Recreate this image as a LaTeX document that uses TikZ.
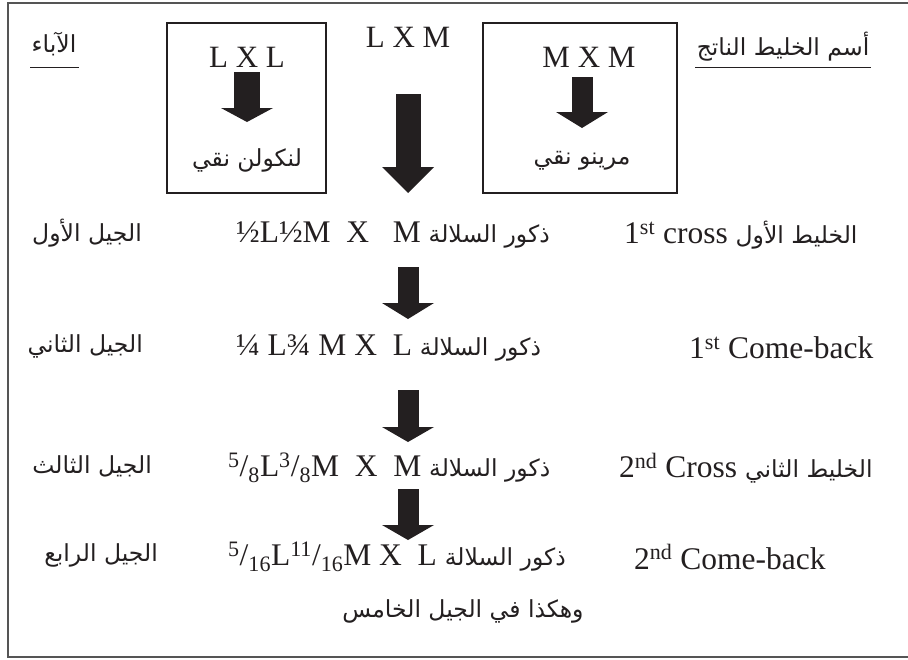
\documentclass[tikz,border=0pt]{standalone}
\usepackage{fontspec}
\setmainfont{Liberation Serif}
\newfontfamily\arfont[Script=Arabic]{DejaVu Sans}
\TeXXeTstate=1
\usetikzlibrary{arrows.meta}
\definecolor{ink}{HTML}{231F20}
\definecolor{framegray}{HTML}{555555}
\newcommand\AR[1]{{\arfont\fontsize{23.5}{28}\selectfont\beginR #1\endR}}
\tikzset{
  lat/.style={inner sep=0pt, text=ink, font=\fontsize{31.5}{36}\selectfont},
  latb/.style={inner sep=0pt, text=ink, font=\fontsize{31}{36}\selectfont},
  arb/.style={inner sep=0pt, text=ink, font=\arfont\fontsize{23.5}{28}\selectfont},
  blockarr/.style 2 args={draw=ink, line width=#1, line cap=butt,
    -{Triangle[width=52pt,length=#2,line width=0pt]}},
  boxline/.style={draw=ink, line width=1.3pt},
  frameline/.style={draw=framegray, line width=2pt}
}
\begin{document}
\begin{tikzpicture}[x=1pt,y=-1pt]
\useasboundingbox (0,0) rectangle (908,659);
\draw[frameline] (8,3) rectangle (930,657);
\draw[boxline] (167,23) rectangle (326,193);
\draw[boxline] (483,23) rectangle (677,193);

% headings
\node[arb] (abaa) at (54,44) {\beginR الآباء\endR};
\node[arb] (hd) at (783,47) {\beginR أسم الخليط الناتج\endR};
\draw[draw=ink, line width=1pt] (30,67) -- (79,67);
\draw[draw=ink, line width=1pt] (695,67) -- (871,67);

% parents
\node[latb] (lxl) at (247,57) {L X L};
\node[latb] (lxm) at (408,37) {L X M};
\node[latb] (mxm) at (589,57) {M X M};
\node[arb] (lin) at (247,160) {\beginR لنكولن نقي\endR};
\node[arb] (mar) at (582,161) {\beginR مرينو نقي\endR};

% generation labels (left)
\node[arb, anchor=east] (g1) at (142,233) {\beginR الجيل الأول\endR};
\node[arb, anchor=east] (g2) at (143,346) {\beginR الجيل الثاني\endR};
\node[arb, anchor=east] (g3) at (152,466) {\beginR الجيل الثالث\endR};
\node[arb, anchor=east] (g4) at (158,555) {\beginR الجيل الرابع\endR};

% middle column
\node[lat, anchor=west] (m1) at (236,235) {½L½M\ \ X\ \ \ M \AR{ذكور السلالة}};
\node[lat, anchor=west] (m2) at (236,348) {¼ L¾ M X\ \ L \AR{ذكور السلالة}};
\node[lat, anchor=west] (m3) at (228,468) {\textsuperscript{5}/\textsubscript{8}L\textsuperscript{3}/\textsubscript{8}M\ \ X\ \ M \AR{ذكور السلالة}};
\node[lat, anchor=west] (m4) at (228,557) {\textsuperscript{5}/\textsubscript{16}L\textsuperscript{11}/\textsubscript{16}M X\ \ L \AR{ذكور السلالة}};
\node[arb] (fin) at (463,611) {\beginR وهكذا في الجيل الخامس\endR};

% right column
\node[lat, anchor=west] (r1) at (624,235) {1\textsuperscript{st} cross \AR{الخليط الأول}};
\node[lat, anchor=west] (r2) at (689,348) {1\textsuperscript{st} Come-back};
\node[lat, anchor=west] (r3) at (619,468) {2\textsuperscript{nd} Cross \AR{الخليط الثاني}};
\node[lat, anchor=west] (r4) at (634,557) {2\textsuperscript{nd} Come-back};

% block arrows
\coordinate (ax) at (408,0);
\draw[blockarr={26pt}{14pt}, shorten <=15pt, shorten >=38pt] (lxl.center) -- (lin.center);
\draw[blockarr={21pt}{16pt}, shorten <=20pt, shorten >=33pt] (mar.center |- mxm.center) -- (mar.center);
\draw[blockarr={25pt}{26pt}, shorten <=57pt, shorten >=42pt] (lxm.center) -- (lxm.center |- m1.center);
\draw[blockarr={21pt}{16pt}, shorten <=32pt, shorten >=29pt] (ax |- m1.center) -- (ax |- m2.center);
\draw[blockarr={21pt}{15pt}, shorten <=42pt, shorten >=26pt] (ax |- m2.center) -- (ax |- m3.center);
\draw[blockarr={21pt}{15pt}, shorten <=21pt, shorten >=17pt] (ax |- m3.center) -- (ax |- m4.center);
\end{tikzpicture}
\end{document}
